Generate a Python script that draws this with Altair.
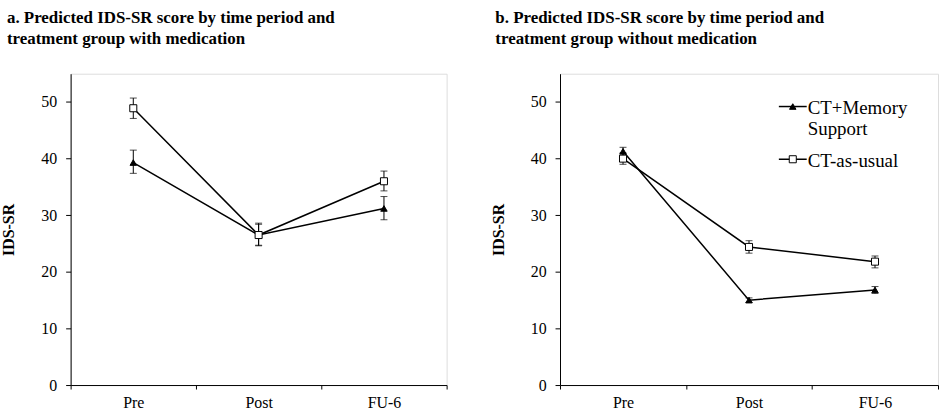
import altair as alt
import pandas as pd

periods = ["Pre", "Post", "FU-6"]
groups = ["CT+Memory Support", "CT-as-usual"]

# Panel a: with medication
a_mem_mean = [39.3, 26.5, 31.2]
a_mem_lo = [37.4, 24.6, 29.2]
a_mem_hi = [41.5, 28.6, 33.3]
a_usual_mean = [48.9, 26.5, 36.0]
a_usual_lo = [47.1, 24.7, 34.3]
a_usual_hi = [50.7, 28.4, 37.8]

# Panel b: without medication
b_mem_mean = [41.3, 15.0, 16.8]
b_mem_lo = [40.6, 14.6, 16.2]
b_mem_hi = [42.0, 15.4, 17.4]
b_usual_mean = [40.0, 24.4, 21.8]
b_usual_lo = [39.0, 23.3, 20.7]
b_usual_hi = [41.0, 25.5, 22.8]

title_a = ["a. Predicted IDS-SR score by time period and", "treatment group with medication"]
title_b = ["b. Predicted IDS-SR score by time period and", "treatment group without medication"]
y_title = "IDS-SR"
y_ticks = [0, 10, 20, 30, 40, 50]

FONT = "Liberation Serif"


def make_df(mem_m, mem_l, mem_h, us_m, us_l, us_h):
    rows = []
    for g, m, l, h in [(groups[0], mem_m, mem_l, mem_h), (groups[1], us_m, us_l, us_h)]:
        for p, mv, lv, hv in zip(periods, m, l, h):
            rows.append({"period": p, "group": g, "mean": mv, "lo": lv, "hi": hv})
    return pd.DataFrame(rows)


df_a = make_df(a_mem_mean, a_mem_lo, a_mem_hi, a_usual_mean, a_usual_lo, a_usual_hi)
df_b = make_df(b_mem_mean, b_mem_lo, b_mem_hi, b_usual_mean, b_usual_lo, b_usual_hi)

x_enc = alt.X("period:N", sort=periods, title=None,
              scale=alt.Scale(paddingInner=0, paddingOuter=0),
              axis=alt.Axis(labelAngle=0, tickBand="extent", tickSize=4, labelPadding=6,
                            labelFontSize=16, labelFont=FONT, labelColor="black",
                            domainColor="black", tickColor="black"))
y_scale = alt.Scale(domain=[0, 55], nice=False, zero=True)
y_axis = alt.Axis(values=y_ticks, title=y_title, grid=False, tickSize=5, labelPadding=9,
                  minExtent=40, maxExtent=40, titlePadding=14,
                  titleFont=FONT, titleFontSize=16, titleFontWeight="bold", titleColor="black",
                  labelFont=FONT, labelFontSize=16, labelColor="black",
                  domainColor="black", tickColor="black")

shape_scale = alt.Scale(domain=groups, range=["triangle-up", "square"])
fill_scale = alt.Scale(domain=groups, range=["black", "white"])
size_scale = alt.Scale(domain=groups, range=[42, 50])


def panel(df, title, width, dx, legend=False):
    base = alt.Chart(df)
    rules = base.mark_rule(color="black", strokeWidth=1).encode(
        x=x_enc, y=alt.Y("lo:Q", scale=y_scale, axis=y_axis), y2="hi:Q", detail="group:N")
    cap_lo = base.mark_tick(color="black", size=7, thickness=1, orient="horizontal").encode(
        x=x_enc, y=alt.Y("lo:Q", scale=y_scale, axis=y_axis))
    cap_hi = base.mark_tick(color="black", size=7, thickness=1, orient="horizontal").encode(
        x=x_enc, y=alt.Y("hi:Q", scale=y_scale, axis=y_axis))
    lines = base.mark_line(color="black", strokeWidth=1.5).encode(
        x=x_enc, y=alt.Y("mean:Q", scale=y_scale, axis=y_axis), detail="group:N")
    pts = base.mark_point(opacity=1, stroke="black", strokeWidth=1).encode(
        x=x_enc, y=alt.Y("mean:Q", scale=y_scale, axis=y_axis),
        shape=alt.Shape("group:N", scale=shape_scale, legend=None),
        fill=alt.Fill("group:N", scale=fill_scale, legend=None),
        size=alt.Size("group:N", scale=size_scale, legend=None),
    )
    layers = [rules, cap_lo, cap_hi, lines, pts]
    if legend:
        leg = pd.DataFrame({"group": groups})
        rows_y = [33, 86]
        for g, yy in zip(groups, rows_y):
            d = leg[leg["group"] == g]
            lb = alt.Chart(d)
            layers.append(lb.mark_rule(color="black", strokeWidth=1.5).encode(
                x=alt.value(220), x2=alt.value(248), y=alt.value(yy)))
            layers.append(lb.mark_point(opacity=1, stroke="black", strokeWidth=1).encode(
                x=alt.value(234), y=alt.value(yy),
                shape=alt.Shape("group:N", scale=shape_scale, legend=None),
                fill=alt.Fill("group:N", scale=fill_scale, legend=None),
                size=alt.Size("group:N", scale=size_scale, legend=None)))
            layers.append(lb.mark_text(align="left", baseline="alphabetic", font=FONT, fontSize=19,
                                       color="black", lineBreak=" " if g == groups[0] else "\n",
                                       lineHeight=21).encode(
                x=alt.value(249), y=alt.value(yy + 8), text="group:N"))
    return alt.layer(*layers).properties(
        width=width, height=313,
        title=alt.TitleParams(text=title, anchor="start", font=FONT, fontSize=17, fontWeight="bold",
                              color="black", lineHeight=21, dx=dx, offset=26))


chart = alt.hconcat(
    panel(df_a, title_a, 378, 6),
    panel(df_b, title_b, 380, 5, legend=True),
    spacing=42,
).properties(
    padding={"left": 0, "top": 7, "right": 0, "bottom": 0}
).configure_view(stroke="#888888", strokeWidth=1).configure(background="white")

chart.save("out.html", embed_options={"renderer": "svg", "actions": False})
